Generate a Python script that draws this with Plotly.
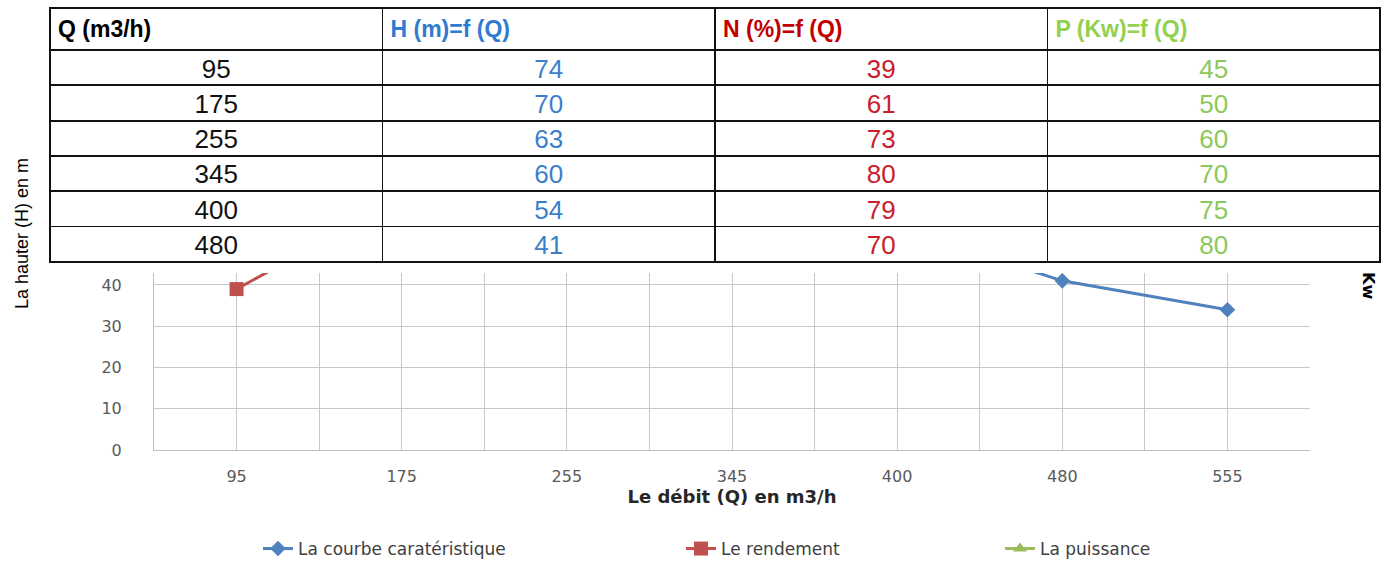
import plotly.graph_objects as go

# ---- data ----
TABLE_HEADERS = ["Q (m3/h)", "H (m)=f (Q)", "N (%)=f (Q)", "P (Kw)=f (Q)"]
Q_TABLE = ["95", "175", "255", "345", "400", "480"]
H_TABLE = [74, 70, 63, 60, 54, 41]
N_TABLE = [39, 61, 73, 80, 79, 70]
P_TABLE = [45, 50, 60, 70, 75, 80]

Q_CHART = ["95", "175", "255", "345", "400", "480", "555"]
H_CHART = [74, 70, 63, 60, 54, 41, 34]      # La courbe caratéristique
N_CHART = [39, 61, 73, 80, 79, 70, 60]      # Le rendement (hidden part estimated)
P_CHART = [45, 50, 60, 70, 75, 80, 85]      # La puissance (hidden part estimated)

W, H = 1393, 562
BLUE, RED, GREEN = "#4f81bd", "#c0504d", "#9bbb59"
GRID = "#c8c8c8"

x_pos = list(range(len(Q_CHART)))

fig = go.Figure()

fig.add_trace(go.Scatter(
    x=x_pos, y=H_CHART, name="La courbe caratéristique", mode="lines+markers",
    line=dict(color=BLUE, width=3), marker=dict(symbol="diamond", size=12, color=BLUE),
    yaxis="y", legend="legend"))
fig.add_trace(go.Scatter(
    x=x_pos, y=N_CHART, name="Le rendement", mode="lines+markers",
    line=dict(color=RED, width=3), marker=dict(symbol="square", size=14, color=RED),
    yaxis="y", legend="legend2"))
fig.add_trace(go.Scatter(
    x=x_pos, y=P_CHART, name="La puissance", mode="lines+markers",
    line=dict(color=GREEN, width=3), marker=dict(symbol="triangle-up", size=12, color=GREEN),
    yaxis="y2", legend="legend3"))

font_tbl = "Liberation Sans, Arial, sans-serif"
fig.add_trace(go.Table(
    domain=dict(x=[50 / W, 1380 / W], y=[0.40, 1 - 8 / H]),
    columnwidth=[1, 1, 1, 1],
    header=dict(
        values=[f"<b>{h}</b>" for h in TABLE_HEADERS],
        align="left", height=30,
        font=dict(family=font_tbl, size=23, color=["#000000", "#2e7bd1", "#c00000", "#92d050"]),
        line=dict(color="#111111", width=1.8), fill=dict(color="white")),
    cells=dict(
        values=[Q_TABLE, H_TABLE, N_TABLE, P_TABLE],
        align="center", height=35.3,
        font=dict(family=font_tbl, size=26, color=["#111111", "#3b7fcc", "#c8202a", "#8cc85a"]),
        line=dict(color="#111111", width=1.8), fill=dict(color="white")),
))

tickfont = dict(family="DejaVu Sans, Verdana, sans-serif", size=16, color="#595959")
legfont = dict(family="DejaVu Sans, sans-serif", size=17, color="#404040")
leg_y = (H - 549) / H

fig.update_layout(
    width=W, height=H, margin=dict(l=0, r=0, t=0, b=0, autoexpand=False),
    paper_bgcolor="white", plot_bgcolor="white",
    showlegend=True,
    legend=dict(orientation="h", x=258 / W, xanchor="left", y=leg_y, yanchor="middle",
                font=legfont, bgcolor="rgba(0,0,0,0)"),
    legend2=dict(orientation="h", x=681 / W, xanchor="left", y=leg_y, yanchor="middle",
                 font=legfont, bgcolor="rgba(0,0,0,0)"),
    legend3=dict(orientation="h", x=1000 / W, xanchor="left", y=leg_y, yanchor="middle",
                 font=legfont, bgcolor="rgba(0,0,0,0)"),
    xaxis=dict(
        domain=[154 / W, 1310 / W], range=[-0.5, len(Q_CHART) - 0.5], automargin=False,
        tickmode="array", tickvals=x_pos, ticktext=Q_CHART,
        showgrid=True, gridcolor=GRID, gridwidth=1, zeroline=False,
        showline=True, linecolor="#bfbfbf", linewidth=1,
        minor=dict(tickmode="array", tickvals=[i - 0.5 for i in range(len(Q_CHART) + 1)],
                   showgrid=True, gridcolor=GRID, gridwidth=1),
        tickfont=tickfont, ticklabelstandoff=12,
        title=dict(text="<b>Le débit (Q) en m3/h</b>", standoff=4,
                   font=dict(family="DejaVu Sans, Verdana, sans-serif", size=18, color="#262626")),
    ),
    yaxis=dict(
        domain=[(H - 450) / H, (H - 273) / H], range=[0, 42.9], dtick=10, automargin=False,
        showgrid=True, gridcolor=GRID, gridwidth=1, zeroline=False,
        showline=True, linecolor="#bfbfbf", linewidth=1,
        tickfont=tickfont, ticklabelstandoff=28,
    ),
    yaxis2=dict(
        overlaying="y", side="right", range=[0, 42.9], automargin=False,
        showgrid=False, showticklabels=False, zeroline=False, showline=False,
    ),
    annotations=[
        dict(text="La hauter (H) en m", x=22 / W, y=(H - 234) / H, xref="paper", yref="paper",
             showarrow=False, textangle=-90, xanchor="center", yanchor="middle",
             font=dict(family="Liberation Sans Narrow, Arial Narrow, sans-serif", size=18, color="#000000")),
        dict(text="<b>Kw</b>", x=1369 / W, y=(H - 285) / H, xref="paper", yref="paper",
             showarrow=False, textangle=90, xanchor="center", yanchor="middle",
             font=dict(family="DejaVu Sans, sans-serif", size=16, color="#000000")),
    ],
)

fig.write_html("out.html")
